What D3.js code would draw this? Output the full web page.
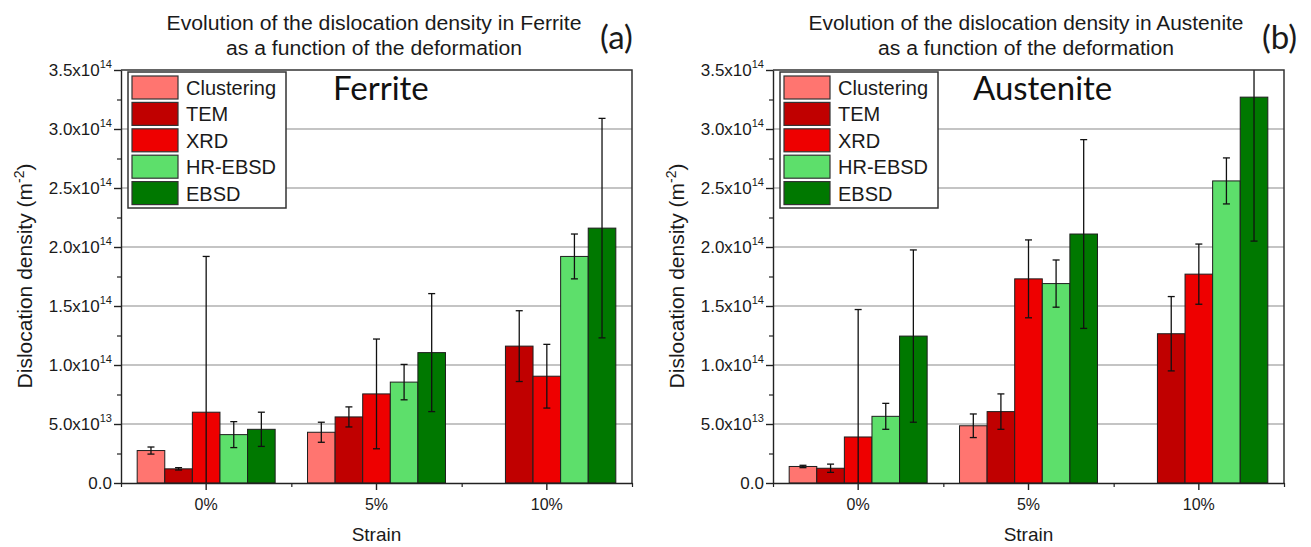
<!DOCTYPE html>
<html>
<head>
<meta charset="utf-8">
<script src="https://cdn.jsdelivr.net/npm/d3@7"></script>
<style>
  body { margin: 0; background: #fff; }
  svg text { font-family: "Liberation Sans", Arial, sans-serif; fill: #1a1a1a; }
</style>
</head>
<body>
<div id="grafiek"></div>
<script>
// Data, dislocation density in units of 1e13 m^-2
const strains = ["0%", "5%", "10%"];
const methods = ["Clustering", "TEM", "XRD", "HR-EBSD", "EBSD"];
const methodColors = ["#ff7570", "#c00000", "#ee0000", "#5ddf6b", "#007800"];

// rows = methods, columns = strains
const ferriteMean = [
  [2.75, 4.3, null],
  [1.2, 5.6, 11.6],
  [6.0, 7.55, 9.05],
  [4.1, 8.55, 19.2],
  [4.55, 11.05, 21.6]
];
const ferriteErr = [
  [0.3, 0.85, null],
  [0.1, 0.85, 3.0],
  [13.2, 4.65, 2.7],
  [1.1, 1.5, 1.9],
  [1.45, 5.0, 9.3]
];
const austeniteMean = [
  [1.4, 4.85, null],
  [1.25, 6.05, 12.65],
  [3.9, 17.3, 17.7],
  [5.65, 16.9, 25.6],
  [12.45, 21.1, 32.7]
];
const austeniteErr = [
  [0.1, 1.0, null],
  [0.35, 1.5, 3.15],
  [10.8, 3.3, 2.55],
  [1.1, 2.0, 1.95],
  [7.3, 8.0, 12.2]
];

const yTickValues = [0, 5e13, 1e14, 1.5e14, 2e14, 2.5e14, 3e14, 3.5e14];
const yTickMantissa = ["0.0", "5.0x10", "1.0x10", "1.5x10", "2.0x10", "2.5x10", "3.0x10", "3.5x10"];
const yTickExp = ["", "13", "14", "14", "14", "14", "14", "14"];
const yMinorTicks = [2.5e13, 7.5e13, 1.25e14, 1.75e14, 2.25e14, 2.75e14, 3.25e14];
const UNIT = 1e13;

const W = 1311, H = 547;
const svg = d3.select('#grafiek')
  .append('svg')
  .attr('width', W)
  .attr('height', H);

function drawPanel(cfg) {
  const x0 = cfg.left, x1 = cfg.left + 511, top = 70, bottom = 483;
  const g = svg.append('g');

  const x = d3.scaleBand().domain(strains).range([x0, x1]);
  const bw = x.bandwidth();
  const xInner = d3.scaleBand().domain(methods).range([bw * 0.095, bw * 0.905]);
  const y = d3.scaleLinear().domain([0, 3.5e14]).range([bottom, top]);

  // Grid lines
  g.append('g')
    .selectAll('line')
    .data(yTickValues.filter(v => v > 0 && v < 3.5e14))
    .enter()
    .append('line')
      .attr('x1', x0).attr('x2', x1)
      .attr('y1', d => y(d)).attr('y2', d => y(d))
      .style('stroke', '#8a8a8a')
      .style('stroke-width', 1.2);

  // flatten data
  const rows = [];
  methods.forEach((m, i) => {
    strains.forEach((s, j) => {
      const v = cfg.mean[i][j];
      if (v == null) return;
      rows.push({ method: m, strain: s, color: methodColors[i], v: v * UNIT, e: cfg.err[i][j] * UNIT });
    });
  });

  // Bars
  g.append('g')
    .selectAll('rect')
    .data(rows)
    .enter()
    .append('rect')
      .attr('x', d => x(d.strain) + xInner(d.method))
      .attr('y', d => y(d.v))
      .attr('width', xInner.bandwidth())
      .attr('height', d => y(0) - y(d.v))
      .style('fill', d => d.color)
      .style('stroke', '#1e1e1e')
      .style('stroke-width', 1);

  // Error bars, clipped to the plot area
  const clipId = 'clip' + cfg.left;
  g.append('clipPath').attr('id', clipId)
    .append('rect').attr('x', x0).attr('y', top).attr('width', x1 - x0).attr('height', bottom - top);
  const eb = g.append('g').attr('clip-path', `url(#${clipId})`)
    .selectAll('g')
    .data(rows)
    .enter()
    .append('g')
      .style('stroke', '#111')
      .style('stroke-width', 1.3);
  const cx = d => x(d.strain) + xInner(d.method) + xInner.bandwidth() / 2;
  eb.append('line')
    .attr('x1', cx).attr('x2', cx)
    .attr('y1', d => y(d.v + d.e)).attr('y2', d => y(Math.max(d.v - d.e, 0)));
  eb.append('line')
    .attr('x1', d => cx(d) - 3.5).attr('x2', d => cx(d) + 3.5)
    .attr('y1', d => y(d.v + d.e)).attr('y2', d => y(d.v + d.e));
  eb.filter(d => d.v - d.e > 0).append('line')
    .attr('x1', d => cx(d) - 3.5).attr('x2', d => cx(d) + 3.5)
    .attr('y1', d => y(d.v - d.e)).attr('y2', d => y(d.v - d.e));

  // Frame (top and right)
  g.append('path')
    .attr('d', `M${x0},${top}H${x1}V${bottom}`)
    .style('fill', 'none')
    .style('stroke', '#333')
    .style('stroke-width', 1.5);

  // Y axis
  g.append('g')
    .attr('transform', `translate(${x0},0)`)
    .call(d3.axisLeft(y).tickValues(yTickValues).tickSize(7).tickSizeOuter(0).tickFormat(''))
    .call(a => a.selectAll('line, path').style('stroke', '#222').style('stroke-width', 1.4));
  g.append('g')
    .attr('transform', `translate(${x0},0)`)
    .call(d3.axisLeft(y).tickValues(yMinorTicks).tickSize(4).tickSizeOuter(0).tickFormat(''))
    .call(a => a.select('.domain').remove())
    .call(a => a.selectAll('line').style('stroke', '#222').style('stroke-width', 1.2));

  const lab = g.append('g')
    .selectAll('text')
    .data(yTickValues)
    .enter()
    .append('text')
      .attr('x', x0 - 9)
      .attr('y', d => y(d) + 6)
      .attr('text-anchor', 'end')
      .style('font-size', '17px');
  lab.append('tspan').text((d, i) => yTickMantissa[i]);
  lab.append('tspan')
    .attr('dy', -8)
    .style('font-size', '11px')
    .text((d, i) => yTickExp[i]);

  // X axis
  g.append('g')
    .attr('transform', `translate(0,${bottom})`)
    .call(d3.axisBottom(x).tickSize(7).tickSizeOuter(0).tickFormat(''))
    .call(a => a.selectAll('line, path').style('stroke', '#222').style('stroke-width', 1.4));
  g.append('g')
    .attr('transform', `translate(0,${bottom})`)
    .call(d3.axisBottom(d3.scaleLinear().domain([0, 3]).range([x0, x1])).ticks(3).tickSize(4).tickSizeOuter(0).tickFormat(''))
    .call(a => a.select('.domain').remove())
    .call(a => a.selectAll('line').style('stroke', '#222').style('stroke-width', 1.2));

  g.append('g')
    .selectAll('text')
    .data(strains)
    .enter()
    .append('text')
      .attr('x', d => x(d) + bw / 2)
      .attr('y', bottom + 27)
      .attr('text-anchor', 'middle')
      .style('font-size', '16px')
      .text(d => d);

  g.append('text')
    .attr('x', (x0 + x1) / 2)
    .attr('y', 541)
    .attr('text-anchor', 'middle')
    .style('font-size', '19px')
    .text('Strain');

  const yt = g.append('text')
    .attr('transform', `translate(${x0 - 89},276) rotate(-90)`)
    .attr('text-anchor', 'middle')
    .style('font-size', '21px');
  yt.append('tspan').text('Dislocation density (m');
  yt.append('tspan').attr('dy', -8).style('font-size', '14px').text('-2');
  yt.append('tspan').attr('dy', 8).text(')');

  // Titles
  const tx = x0 + 253;
  g.append('text')
    .attr('x', tx).attr('y', 30)
    .attr('text-anchor', 'middle')
    .attr('textLength', cfg.titleLen)
    .attr('lengthAdjust', 'spacingAndGlyphs')
    .style('font-size', '20px')
    .text(cfg.title);
  g.append('text')
    .attr('x', tx).attr('y', 55)
    .attr('text-anchor', 'middle')
    .attr('textLength', 296)
    .attr('lengthAdjust', 'spacingAndGlyphs')
    .style('font-size', '20px')
    .text('as a function of the deformation');
  g.append('text')
    .attr('x', x0 + cfg.tagX).attr('y', 49)
    .style('font-family', 'Lato, "Open Sans", sans-serif')
    .style('font-size', '33px')
    .text(cfg.tag);

  g.append('text')
    .attr('x', x0 + cfg.phaseX).attr('y', 100)
    .style('font-family', 'Lato, "Open Sans", sans-serif')
    .style('font-size', '33px')
    .style('fill', '#111')
    .text(cfg.phase);

  // Legend
  const lg = g.append('g').attr('transform', `translate(${x0 + 7},${top + 2})`);
  lg.append('rect')
    .attr('width', 158).attr('height', 136)
    .style('fill', '#fff')
    .style('stroke', '#333')
    .style('stroke-width', 1.5);
  const item = lg.selectAll('g.item')
    .data(methods)
    .enter()
    .append('g')
      .attr('transform', (d, i) => `translate(4,${4 + i * 26.4})`);
  item.append('rect')
    .attr('width', 46).attr('height', 23)
    .style('fill', (d, i) => methodColors[i])
    .style('stroke', '#333')
    .style('stroke-width', 1.2);
  item.append('text')
    .attr('x', 54).attr('y', 19)
    .style('font-size', '20px')
    .text(d => d);
}

drawPanel({ left: 121, mean: ferriteMean, err: ferriteErr,
  title: 'Evolution of the dislocation density in Ferrite', titleLen: 415,
  tag: '(a)', tagX: 479, phase: 'Ferrite', phaseX: 212 });
drawPanel({ left: 773, mean: austeniteMean, err: austeniteErr,
  title: 'Evolution of the dislocation density in Austenite', titleLen: 435,
  tag: '(b)', tagX: 489, phase: 'Austenite', phaseX: 200 });
</script>
</body>
</html>
